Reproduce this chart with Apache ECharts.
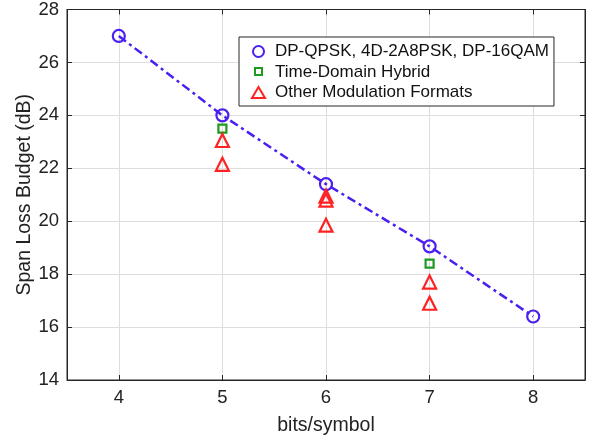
<!DOCTYPE html>
<html>
<head>
<meta charset="utf-8">
<script src="https://cdn.jsdelivr.net/npm/echarts@6/dist/echarts.min.js"></script>
<style>
  html, body { margin: 0; padding: 0; background: #fff; }
  #chart { width: 596px; height: 441px; }
</style>
</head>
<body>
<div id="chart"></div>
<script>
// bits/symbol -> span loss budget (dB)
const mainX = [4, 5, 6, 7, 8]
const mainY = [27.0, 24.0, 21.4, 19.05, 16.4]
const hybridX = [5, 7]
const hybridY = [23.5, 18.4]
const otherX = [5, 5, 6, 6, 6, 7, 7]
const otherY = [23.05, 22.15, 20.95, 20.8, 19.85, 17.7, 16.9]
const seriesNames = ['DP-QPSK, 4D-2A8PSK, DP-16QAM', 'Time-Domain Hybrid', 'Other Modulation Formats']

const blue = '#4A1FF0'
const green = '#1E9A1E'
const red = '#FF2222'
const axisColor = '#262626'
const gridColor = '#dedede'
const font = 'Liberation Sans, Arial, Helvetica, sans-serif'

const pairs = (xs, ys) => xs.map((x, i) => [x, ys[i]])

// hollow square icon with some empty margin so it comes out smaller than the others
const smallSquare = 'path://M0,0M13,11M3,1.5H10V8.5H3Z'

const chart = echarts.init(document.getElementById('chart'))

const tickFmt = v => (Number.isInteger(v) ? String(v) : '')

const option = {
  animation: false,
  textStyle: { fontFamily: font },
  grid: {
    left: 67,
    right: 11,
    top: 8,
    bottom: 60,
    show: true,
    borderColor: axisColor,
    borderWidth: 1
  },
  legend: {
    orient: 'vertical',
    left: 239,
    top: 37,
    backgroundColor: '#fff',
    borderColor: axisColor,
    borderWidth: 1,
    borderRadius: 0,
    padding: [6, 5, 5, 12],
    itemGap: 3.5,
    itemWidth: 13,
    itemHeight: 11,
    textStyle: { fontSize: 17, color: '#111', fontFamily: font, padding: [0, 0, 0, 5] },
    data: [
      { name: seriesNames[0], icon: 'circle', itemStyle: { color: 'rgba(0,0,0,0)', borderColor: blue, borderWidth: 2 } },
      { name: seriesNames[1], icon: smallSquare, itemStyle: { color: 'rgba(0,0,0,0)', borderColor: green, borderWidth: 2 } },
      { name: seriesNames[2], icon: 'triangle', itemStyle: { color: 'rgba(0,0,0,0)', borderColor: red, borderWidth: 2 } }
    ]
  },
  xAxis: [
    {
      type: 'value',
      min: 3.5,
      max: 8.5,
      splitNumber: 5,
      name: 'bits/symbol',
      nameLocation: 'middle',
      nameGap: 36,
      nameMoveOverlap: false,
      nameTextStyle: { fontSize: 19.5, color: '#222' },
      axisLine: { show: true, lineStyle: { color: axisColor } },
      axisTick: { inside: true, length: 5, lineStyle: { color: axisColor } },
      axisLabel: { fontSize: 18.5, color: '#222', margin: 8, formatter: tickFmt },
      splitLine: { show: true, lineStyle: { color: gridColor } }
    },
    {
      type: 'value',
      position: 'top',
      min: 3.5,
      max: 8.5,
      splitNumber: 5,
      axisLine: { show: true, lineStyle: { color: axisColor } },
      axisTick: { inside: true, length: 5, lineStyle: { color: axisColor } },
      axisLabel: { show: false },
      splitLine: { show: false }
    }
  ],
  yAxis: [
    {
      type: 'value',
      min: 14,
      max: 28,
      interval: 2,
      name: 'Span Loss Budget (dB)',
      nameLocation: 'middle',
      nameGap: 32,
      nameMoveOverlap: false,
      nameTextStyle: { fontSize: 19.5, color: '#222' },
      axisLine: { show: true, lineStyle: { color: axisColor } },
      axisTick: { inside: true, length: 5, lineStyle: { color: axisColor } },
      axisLabel: { fontSize: 18.5, color: '#222', margin: 8 },
      splitLine: { show: true, lineStyle: { color: gridColor } }
    },
    {
      type: 'value',
      position: 'right',
      min: 14,
      max: 28,
      interval: 2,
      axisLine: { show: true, lineStyle: { color: axisColor } },
      axisTick: { inside: true, length: 5, lineStyle: { color: axisColor } },
      axisLabel: { show: false },
      splitLine: { show: false }
    }
  ],
  series: [
    {
      name: seriesNames[0],
      type: 'line',
      data: pairs(mainX, mainY),
      symbol: 'circle',
      symbolSize: 12,
      itemStyle: { color: 'rgba(0,0,0,0)', borderColor: blue, borderWidth: 2.2 },
      lineStyle: { color: blue, width: 2.5, type: [9, 4, 3, 4] },
      z: 3
    },
    {
      name: seriesNames[1],
      type: 'scatter',
      data: pairs(hybridX, hybridY),
      symbol: 'rect',
      symbolSize: 8,
      itemStyle: { color: 'rgba(0,0,0,0)', borderColor: green, borderWidth: 2.2, opacity: 1 },
      z: 4
    },
    {
      name: seriesNames[2],
      type: 'scatter',
      data: pairs(otherX, otherY),
      symbol: 'triangle',
      symbolSize: 13,
      itemStyle: { color: 'rgba(0,0,0,0)', borderColor: red, borderWidth: 2.2, opacity: 1 },
      z: 4
    }
  ]
}

chart.setOption(option)
</script>
</body>
</html>
